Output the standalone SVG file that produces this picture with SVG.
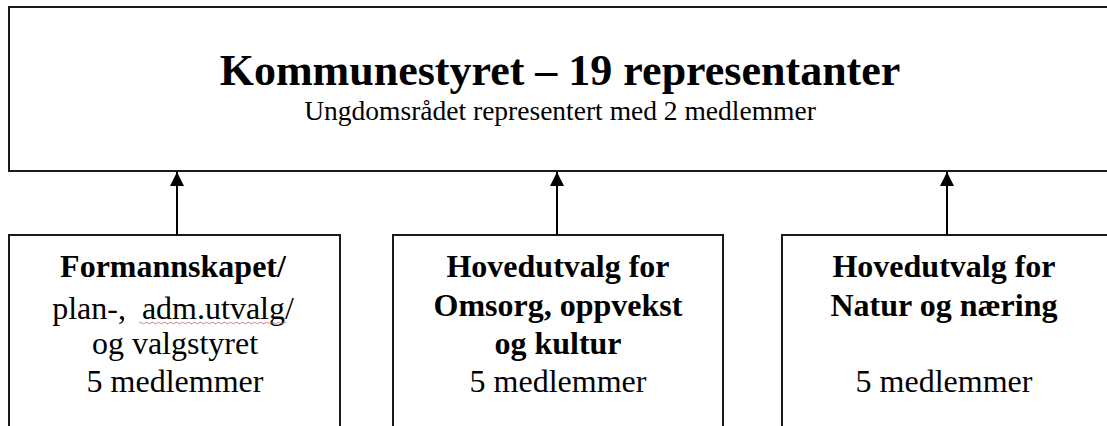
<svg xmlns="http://www.w3.org/2000/svg" width="1107" height="426" viewBox="0 0 1107 426">
<style>
.box{fill:#ffffff;stroke:#1a1a1a;stroke-width:2}
.t{font-family:"Liberation Serif","Times New Roman",serif;fill:#000;text-anchor:middle}
.b{font-weight:bold}
.n{font-size:32px}
.conn{stroke:#000;stroke-width:2;fill:none}
</style>
<defs>
<marker id="arr" markerWidth="14" markerHeight="15" refX="14" refY="7" orient="auto" markerUnits="userSpaceOnUse">
<path d="M0,0 L14,7 L0,14 Z" fill="#000"/>
</marker>
</defs>
<rect width="1107" height="426" fill="#ffffff"/>
<g id="kommunestyret">
<rect class="box" x="9" y="7" width="1110" height="164"/>
<text class="t b" x="560" y="85" font-size="44">Kommunestyret – 19 representanter</text>
<text class="t" x="560" y="120" font-size="27.5">Ungdomsrådet representert med 2 medlemmer</text>
</g>
<g id="formannskapet">
<rect class="box" x="9" y="235" width="331" height="200"/>
<text class="t b n" x="173" y="277">Formannskapet/</text>
<text class="t n" x="173" y="319" xml:space="preserve">plan-,  adm.utvalg/</text>
<path d="M139,323 q1.5,-1.5 3,0 t3,0 t3,0 t3,0 t3,0 t3,0 t3,0 t3,0 t3,0 t3,0 t3,0 t3,0 t3,0 t3,0 t3,0 t3,0 t3,0 t3,0 t3,0 t3,0 t3,0 t3,0 t3,0 t3,0 t3,0 t3,0 t3,0 t3,0 t3,0 t3,0 t3,0 t3,0 t3,0 t3,0 t3,0 t3,0 t3,0 t3,0 t3,0 t3,0 t3,0 t3,0 t3,0 t3,0 t3,0 t3,0 t3,0 t3,0 t3,0" fill="none" stroke="#e05a5a" stroke-width="0.8"/>
<text class="t n" x="175" y="354">og valgstyret</text>
<text class="t n" x="175" y="392">5 medlemmer</text>
</g>
<g id="omsorg">
<rect class="box" x="393" y="235" width="330" height="200"/>
<text class="t b n" x="558" y="277">Hovedutvalg for</text>
<text class="t b n" x="558" y="316">Omsorg, oppvekst</text>
<text class="t b n" x="558" y="354">og kultur</text>
<text class="t n" x="558" y="392">5 medlemmer</text>
</g>
<g id="natur">
<rect class="box" x="782" y="235" width="340" height="200"/>
<text class="t b n" x="944" y="277">Hovedutvalg for</text>
<text class="t b n" x="944" y="316">Natur og næring</text>
<text class="t n" x="944" y="392">5 medlemmer</text>
</g>
<g id="connectors">
<line class="conn" x1="177" y1="235" x2="177" y2="172" marker-end="url(#arr)"/>
<line class="conn" x1="557" y1="235" x2="557" y2="172" marker-end="url(#arr)"/>
<line class="conn" x1="947" y1="235" x2="947" y2="172" marker-end="url(#arr)"/>
</g>
</svg>
